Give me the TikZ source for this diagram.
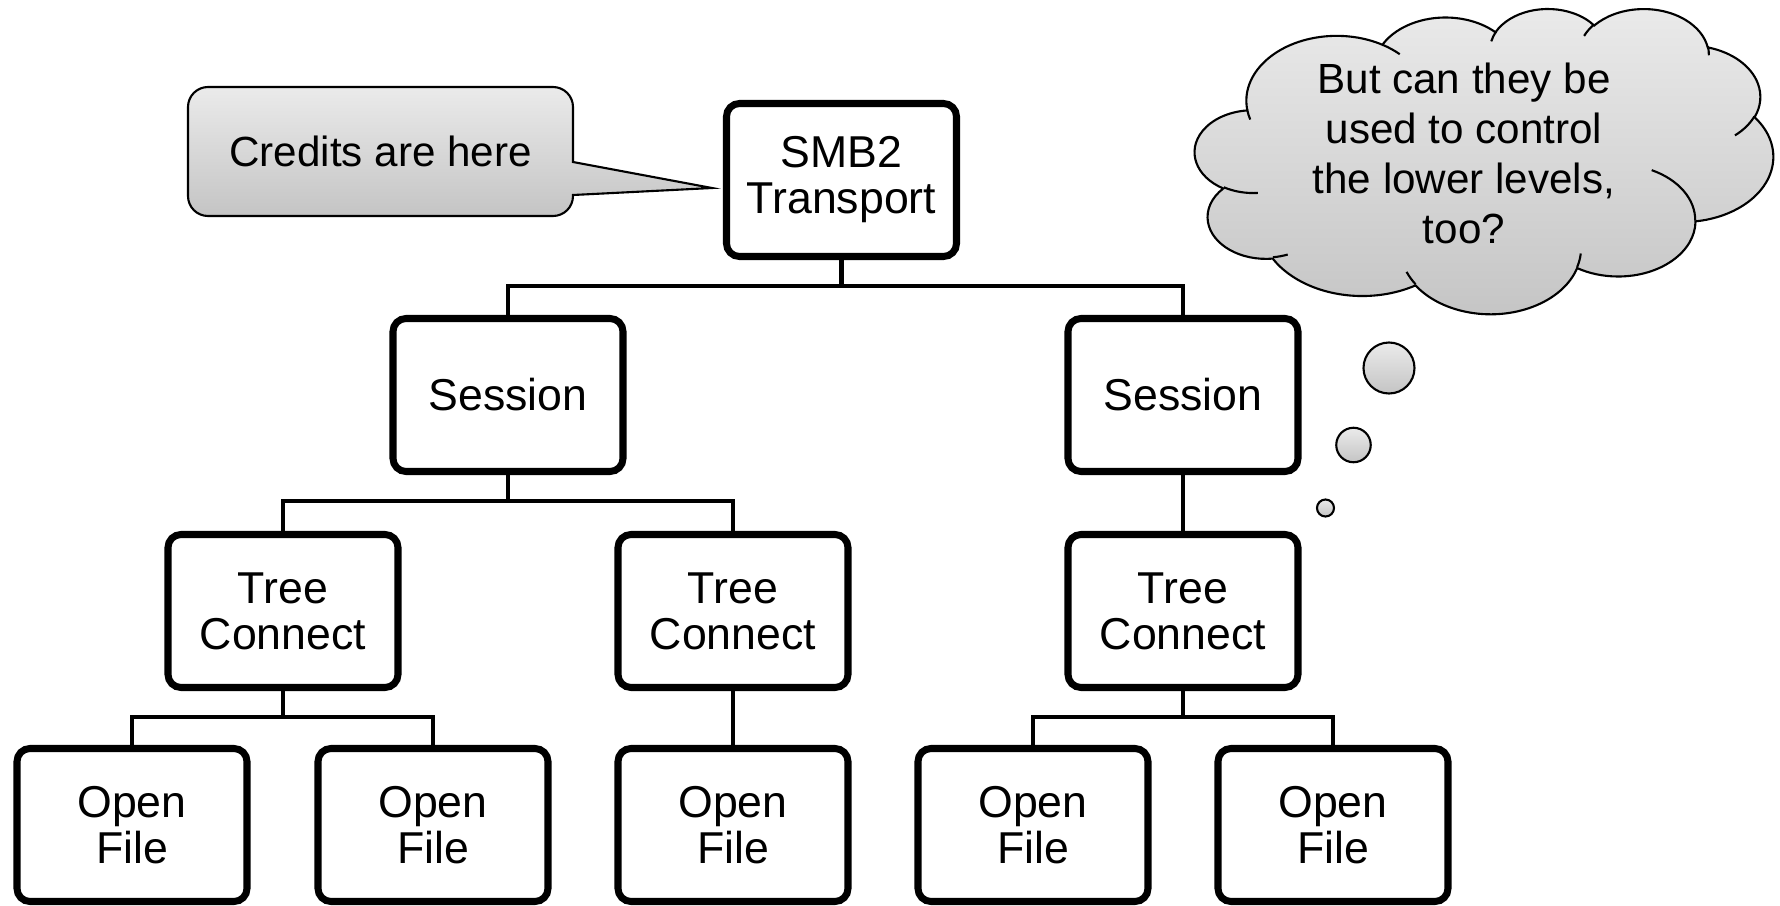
\documentclass[tikz,border=0pt]{standalone}
\usepackage{fontspec}
\setmainfont{Liberation Sans}
\usetikzlibrary{backgrounds}

\tikzset{
  level/.style={draw,line width=2pt,rounded corners=0.13cm,fill=white,align=center,
    minimum width=2.3cm,minimum height=1.53cm,font=\fontsize{12.7}{13.1}\selectfont},
  branch/.style={line width=1.2pt,to path={-- ++(0,-0.26) -| (\tikztotarget)}},
  stem/.style={line width=1.2pt},
  grayfill/.style={draw,line width=0.6pt,top color=black!8,bottom color=black!23},
  puff/.style n args={4}{x radius=#1,y radius=#2,
    start angle={atan2(#1*sin(#3),#2*cos(#3))},
    delta angle={mod(atan2(#1*sin(#3+#4),#2*cos(#3+#4))-atan2(#1*sin(#3),#2*cos(#3))+540,360)-180}}
}

\begin{document}
\begin{tikzpicture}
    \useasboundingbox (0,0) rectangle (17.8,9.05);
    % the tree
    \node (smb) at (8.415,7.25) [level] {SMB2\\Transport};
    \node (sesA) at (5.08,5.10) [level] {Session};
    \node (sesB) at (11.83,5.10) [level] {Session};
    \node (tcA) at (2.83,2.94) [level] {Tree\\Connect};
    \node (tcB) at (7.33,2.94) [level] {Tree\\Connect};
    \node (tcC) at (11.83,2.94) [level] {Tree\\Connect};
    \node (ofA) at (1.32,0.80) [level] {Open\\File};
    \node (ofB) at (4.33,0.80) [level] {Open\\File};
    \node (ofC) at (7.33,0.80) [level] {Open\\File};
    \node (ofD) at (10.33,0.80) [level] {Open\\File};
    \node (ofE) at (13.33,0.80) [level] {Open\\File};
    \draw [branch] (smb.south) to (sesA.north);
    \draw [branch] (smb.south) to (sesB.north);
    \draw [branch] (sesA.south) to (tcA.north);
    \draw [branch] (sesA.south) to (tcB.north);
    \draw [stem] (sesB) to (tcC);
    \draw [branch] (tcA.south) to (ofA.north);
    \draw [branch] (tcA.south) to (ofB.north);
    \draw [stem] (tcB) to (ofC);
    \draw [branch] (tcC.south) to (ofD.north);
    \draw [branch] (tcC.south) to (ofE.north);

    % callout
    \node (credits) at (3.805,7.535) [minimum width=3.85cm,minimum height=1.29cm,outer sep=0pt,
      font=\fontsize{12}{14}\selectfont] {Credits are here};
    \coordinate (tip) at ([xshift=-0.11cm,yshift=-0.08cm]smb.west);
    \begin{scope}[on background layer]
      \draw [grayfill] ([yshift=-0.105cm]credits.east)
        -- ([yshift=-0.2cm]credits.north east) arc[start angle=0,end angle=90,radius=0.2cm]
        -- ([xshift=0.2cm]credits.north west) arc[start angle=90,end angle=180,radius=0.2cm]
        -- ([yshift=0.2cm]credits.south west) arc[start angle=180,end angle=270,radius=0.2cm]
        -- ([xshift=-0.2cm]credits.south east) arc[start angle=270,end angle=360,radius=0.2cm]
        -- ([yshift=-0.435cm]credits.east) -- (tip) -- cycle;
    \end{scope}

    % thought cloud
    \begin{scope}[shift={(11.95,8.97)},x=0.01338cm,y=-0.00706cm]
      \draw [grayfill] (39.00,143.70)
        arc[puff={67.53}{91.90}{-190.4875}{123.7805}]
        arc[puff={53.33}{72.67}{-144.1024}{89.9452}]
        arc[puff={43.65}{59.45}{-145.8079}{99.7230}]
        arc[puff={48.57}{65.95}{-130.9861}{117.2417}]
        arc[puff={53.33}{72.73}{-78.7089}{109.0269}]
        arc[puff={67.75}{92.20}{-46.2673}{130.2690}]
        arc[puff={57.85}{78.67}{0.6250}{114.0333}]
        arc[puff={67.52}{92.15}{22.4516}{115.1726}]
        arc[puff={77.20}{105.43}{66.2426}{75.7110}]
        arc[puff={43.60}{59.18}{-274.9421}{146.7356}]
        arc[puff={43.45}{59.45}{-246.8285}{152.5189}] -- cycle;
      \draw [line width=0.6pt]
        (46.93,261.77) arc[puff={43.45}{59.45}{86.742}{26.4295}]
        (69.28,348.99) arc[puff={43.60}{59.18}{73.6105}{11.4475}]
        (164.78,390.90) arc[puff={67.52}{92.15}{137.6242}{14.0811}]
        (288.27,347.51) arc[puff={67.52}{92.15}{6.4533}{15.9984}]
        (341.29,229.54) arc[puff={57.85}{78.67}{-70.2924}{70.9174}]
        (417.98,153.54) arc[puff={53.33}{72.73}{30.3180}{27.7515}]
        (383.24,54.26) arc[puff={48.57}{65.95}{-13.7443}{14.8589}]
        (290.78,39.52) arc[puff={48.57}{65.95}{-149.1815}{18.1954}]
        (221.41,47.20) arc[puff={43.65}{59.45}{-163.4943}{17.6864}]
        (140.00,51.92) arc[puff={67.53}{91.90}{-66.7070}{12.3194}]
        (41.27,157.89) arc[puff={67.53}{91.90}{157.6544}{11.8582}];
    \end{scope}
    \node (doubt) at (14.64,7.515) [align=center,font=\fontsize{12}{14.2}\selectfont]
      {But can they be\\used to control\\the lower levels,\\too?};
    \node (bubA) at (13.89,5.37) [circle,grayfill,inner sep=0pt,minimum size=0.51cm] {};
    \node (bubB) at (13.535,4.60) [circle,grayfill,inner sep=0pt,minimum size=0.345cm] {};
    \node (bubC) at (13.255,3.97) [circle,grayfill,inner sep=0pt,minimum size=0.17cm] {};
\end{tikzpicture}
\end{document}
